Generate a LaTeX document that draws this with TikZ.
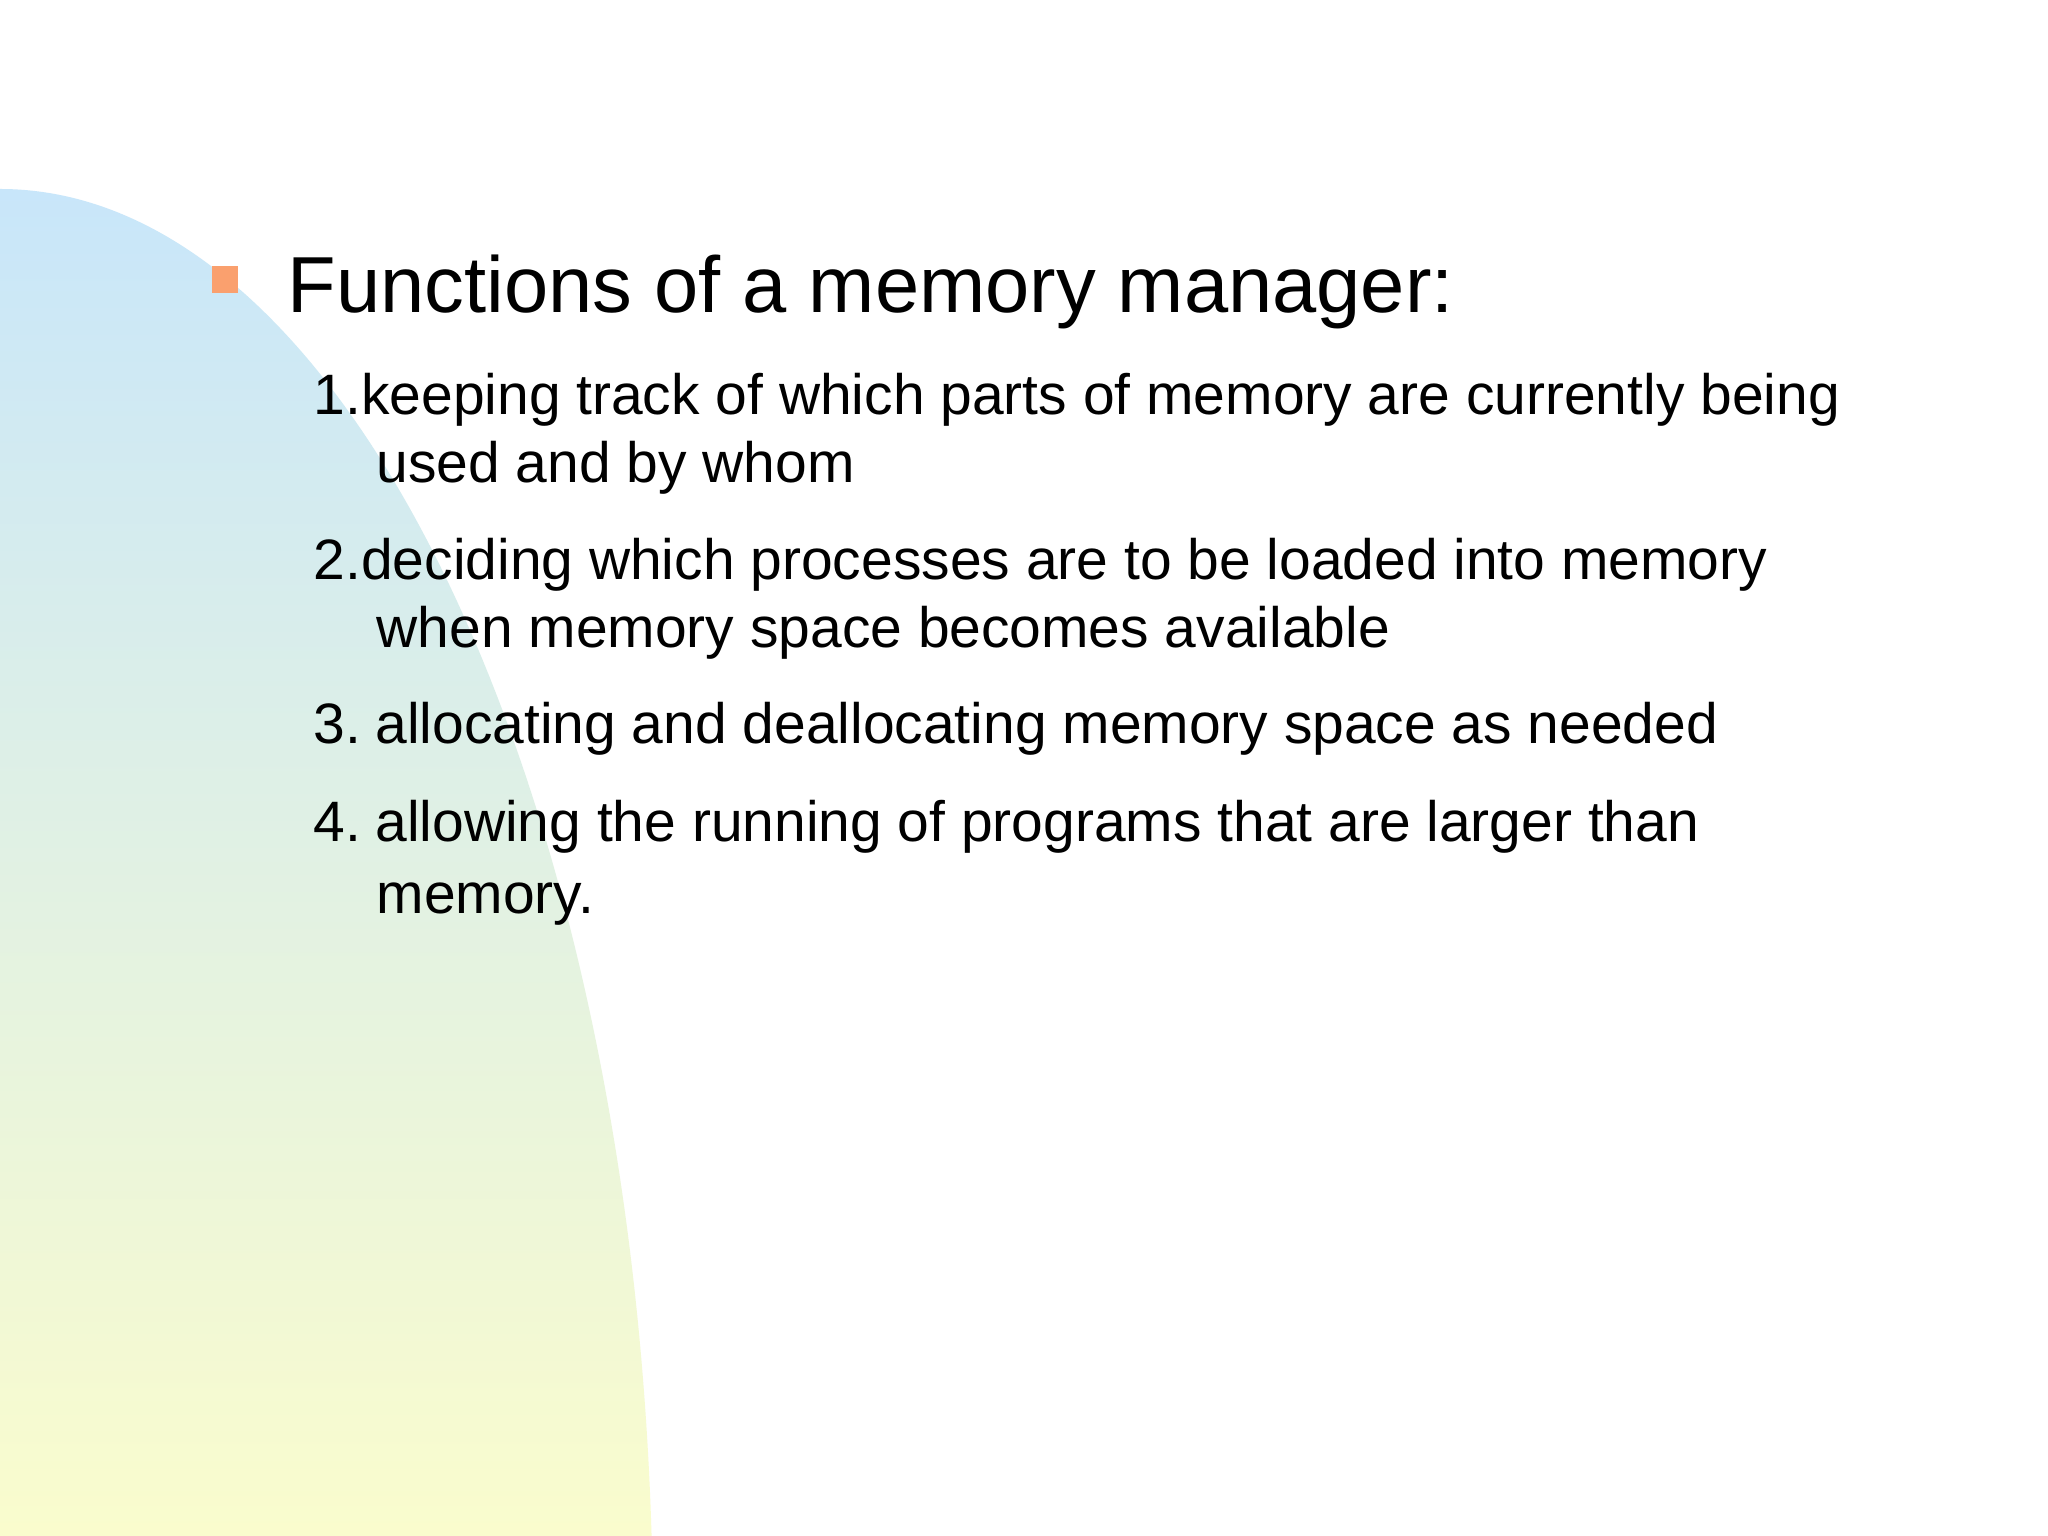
\documentclass[tikz,border=0pt]{standalone}
\usepackage{fontspec}
\setmainfont{Liberation Sans}
\definecolor{blobtop}{RGB}{200,230,250}
\definecolor{blobbot}{RGB}{250,252,205}
\definecolor{bul}{RGB}{250,160,110}
\begin{document}
\begin{tikzpicture}[x=0.01cm,y=0.01cm,
  title/.style={anchor=base west,inner sep=0,font=\fontsize{22.6}{27}\selectfont},
  item/.style={anchor=base west,inner sep=0,font=\fontsize{16.2}{20}\selectfont}]
\useasboundingbox (0,0) rectangle (2048,1536);
\fill[white] (0,0) rectangle (2048,1536);
\begin{scope}
\clip (0,-96) ellipse [x radius=653,y radius=1443];
\shade[top color=blobtop,bottom color=blobbot] (0,0) rectangle (700,1350);
\end{scope}
\fill[bul] (212,1243) rectangle (238,1270);
\node[title] (t) at (287,1223) {Functions of a memory manager:};
\node[item] (i1) at (313,1121) {1.keeping track of which parts of memory are currently being};
\node[item] (i1b) at (376,1053) {used and by whom};
\node[item] (i2) at (313,956) {2.deciding which processes are to be loaded into memory};
\node[item] (i2b) at (376,888) {when memory space becomes available};
\node[item] (i3) at (313,792) {3.\hspace{0.25em}allocating and deallocating memory space as needed};
\node[item] (i4) at (313,694) {4.\hspace{0.25em}allowing the running of programs that are larger than};
\node[item] (i4b) at (376,622) {memory.};
\end{tikzpicture}
\end{document}
